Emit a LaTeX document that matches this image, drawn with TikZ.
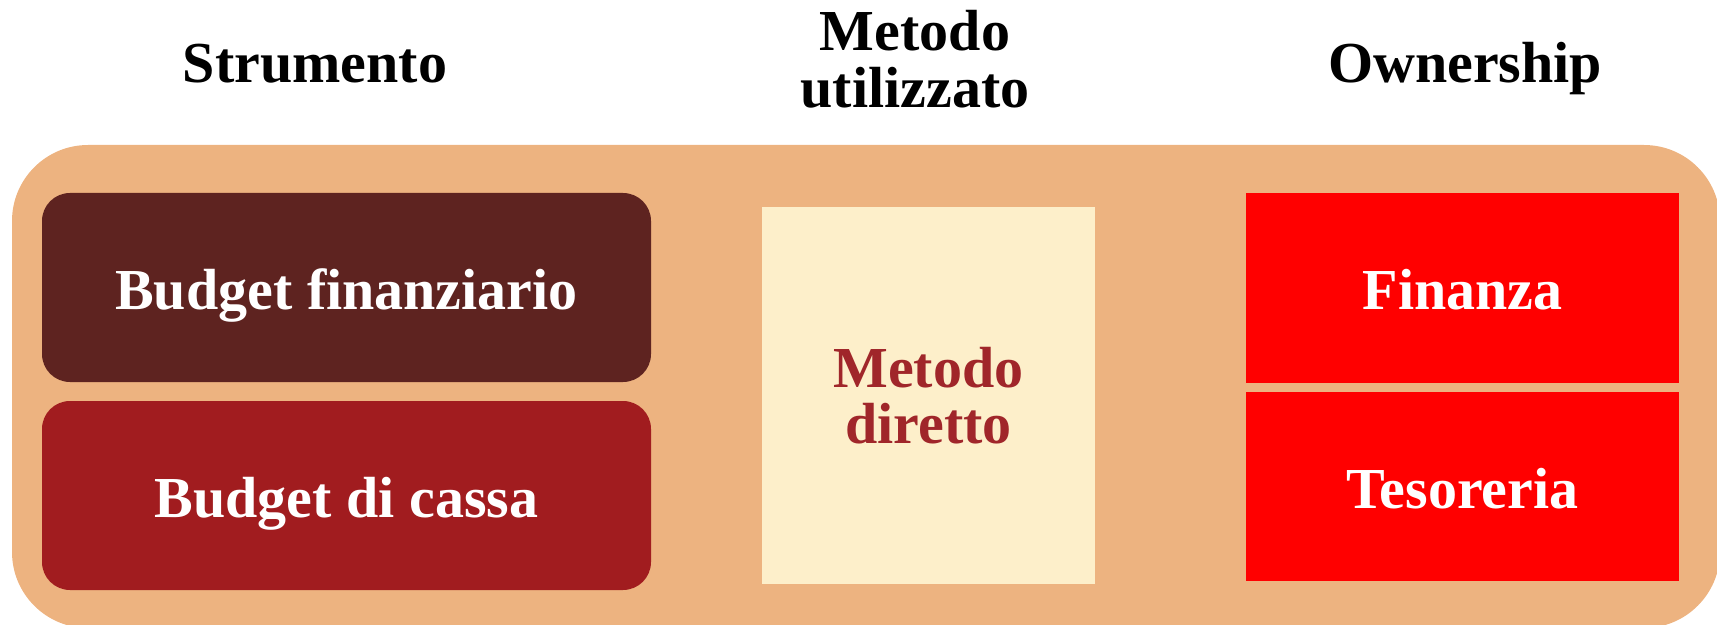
\documentclass[tikz,border=0pt]{standalone}
\usepackage{fontspec}
\setmainfont{Liberation Serif}
\usepackage{tikz}

\definecolor{outerfill}{RGB}{237,179,128}
\definecolor{darkbrown}{RGB}{94,35,32}
\definecolor{darkred}{RGB}{161,28,31}
\definecolor{creamfill}{RGB}{253,239,202}
\definecolor{creamtext}{RGB}{160,38,42}
\definecolor{brightred}{RGB}{255,0,0}

\tikzset{
  bigtext/.style={inner sep=0pt, align=center, font=\bfseries\fontsize{29}{28}\selectfont},
  heading/.style={bigtext, text=black, font=\bfseries\fontsize{29}{28.5}\selectfont},
  boxlabel/.style={bigtext, text=white}
}

\begin{document}
\begin{tikzpicture}[x=0.5pt,y=0.5pt,yscale=-1,xscale=1]
        \useasboundingbox (0,0) rectangle (1717,625);
        \clip (0,0) rectangle (1717,625);
        % background panel
        \fill [outerfill, rounded corners=38pt] (12,145) rectangle (1720,628);
        % Strumento column
        \fill [darkbrown, rounded corners=14pt] (42,193) rectangle (651,382);
        \fill [darkred, rounded corners=14pt] (42,401) rectangle (651,590);
        % Metodo column
        \fill [creamfill] (762,207) rectangle (1095,584);
        % Ownership column
        \fill [brightred] (1246,193) rectangle (1679,383);
        \fill [brightred] (1246,392) rectangle (1679,581);

        \draw (315,64) node (hstrum) [heading] {Strumento};
        \draw (915,59) node (hmetodo) [heading] {Metodo\\utilizzato};
        \draw (1465,69) node (hown) [heading] {Ownership};

        \draw (346.5,295.5) node (budfin) [boxlabel] {Budget finanziario};
        \draw (346.5,503.5) node (budcassa) [boxlabel] {Budget di cassa};
        \draw (928.5,396) node (metdir) [bigtext, text=creamtext] {Metodo\\diretto};
        \draw (1462.5,290) node (finanza) [boxlabel] {Finanza};
        \draw (1462.5,489) node (tesoreria) [boxlabel] {Tesoreria};
    \end{tikzpicture}
\end{document}
